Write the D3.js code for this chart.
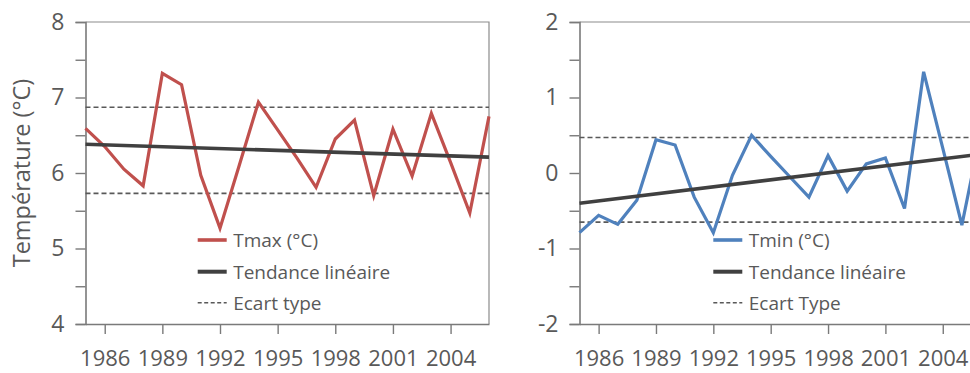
<!DOCTYPE html>
<html><head><meta charset="utf-8">
<script src="https://cdn.jsdelivr.net/npm/d3@7/dist/d3.min.js"></script>
<style>
html,body{margin:0;padding:0;background:#fff;overflow:hidden;}
svg{display:block;font-family:"Open Sans",sans-serif;}
</style></head>
<body>
<script>
const years = [1985,1986,1987,1988,1989,1990,1991,1992,1993,1994,1995,1996,1997,1998,1999,2000,2001,2002,2003,2004,2005,2006];
const tmax = [6.59,6.35,6.05,5.83,7.32,7.17,5.97,5.27,6.10,6.94,6.57,6.20,5.81,6.45,6.70,5.70,6.58,5.96,6.79,6.14,5.47,6.75];
const tmin = [-0.79,-0.56,-0.68,-0.36,0.44,0.37,-0.32,-0.79,-0.03,0.50,0.22,-0.05,-0.32,0.23,-0.24,0.12,0.20,-0.47,1.34,0.33,-0.69,0.55];
const trendYears = [1985,2006];
const trendTmax = [6.38,6.21];
const trendTmin = [-0.40,0.25];
const stdTmax = [6.87,5.73];
const stdTmin = [0.47,-0.65];
const xTickYears = [1986,1989,1992,1995,1998,2001,2004];
const yTicksTmax = [4,4.5,5,5.5,6,6.5,7,7.5,8];
const yLabelsTmax = [4,5,6,7,8];
const yTicksTmin = [-2,-1.5,-1,-0.5,0,0.5,1,1.5,2];
const yLabelsTmin = [-2,-1,0,1,2];
const legendTmax = ["Tmax (°C)","Tendance linéaire","Ecart type"];
const legendTmin = ["Tmin (°C)","Tendance linéaire","Ecart Type"];

const W = 970, H = 373;
const svg = d3.select("body").append("svg").attr("width",W).attr("height",H);

function panel(cfg){
  const x = d3.scaleLinear().domain([1985,2006]).range(cfg.xr);
  const y = d3.scaleLinear().domain(cfg.yd).range([324,22]);
  const g = svg.append("g");
  g.append("path").attr("d",`M${cfg.xr[0]},${y(cfg.yd[1])}H${cfg.xr[1]}V324`)
    .attr("fill","none").attr("stroke","#8c8c8c").attr("stroke-width",1.2);
  const ya = g.append("g").attr("transform",`translate(${cfg.xr[0]},0)`)
    .call(d3.axisLeft(y).tickValues(cfg.yTicks).tickSize(10).tickFormat(d=>cfg.yLabels.includes(d)?String(d):""));
  ya.select(".domain").attr("stroke","#7a7a7a").attr("stroke-width",1.6);
  ya.selectAll(".tick line").attr("stroke","#7a7a7a").attr("stroke-width",1.4);
  ya.selectAll(".tick text").attr("x",-21).attr("fill","#595959").attr("font-size",23).attr("font-family","Open Sans");
  const xa = g.append("g").attr("transform","translate(0,324)")
    .call(d3.axisBottom(x).tickValues(xTickYears).tickSize(10).tickSizeOuter(0).tickFormat(d3.format("d")));
  xa.select(".domain").attr("stroke","#7a7a7a").attr("stroke-width",1.6);
  xa.selectAll(".tick line").attr("stroke","#7a7a7a").attr("stroke-width",1.4);
  xa.selectAll(".tick text").attr("y",42).attr("dy",0).attr("fill","#595959").attr("font-size",22).attr("font-family","Open Sans");
  g.selectAll(".std").data(cfg.std).enter().append("line")
    .attr("x1",cfg.xr[0]).attr("x2",cfg.xr[1]).attr("y1",d=>y(d)).attr("y2",d=>y(d))
    .attr("stroke","#595959").attr("stroke-width",1.6).attr("stroke-dasharray","5,3");
  const line = d3.line().x((d,i)=>x(years[i])).y(d=>y(d));
  g.append("path").datum(cfg.values).attr("d",line).attr("fill","none")
    .attr("stroke",cfg.color).attr("stroke-width",3.2).attr("stroke-linejoin","miter");
  const tline = d3.line().x((d,i)=>x(trendYears[i])).y(d=>y(d));
  g.append("path").datum(cfg.trend).attr("d",tline).attr("fill","none")
    .attr("stroke","#404040").attr("stroke-width",3.6);
  const lg = g.append("g");
  const ly = [240,271.7,302.7];
  const styles = [
    {c:cfg.color,w:3.6,dash:null},
    {c:"#404040",w:4,dash:null},
    {c:"#595959",w:1.6,dash:"4,2.5"}
  ];
  cfg.legend.forEach((t,i)=>{
    lg.append("line").attr("x1",cfg.lx).attr("x2",cfg.lx+29).attr("y1",ly[i]).attr("y2",ly[i])
      .attr("stroke",styles[i].c).attr("stroke-width",styles[i].w).attr("stroke-dasharray",styles[i].dash);
    lg.append("text").attr("x",cfg.lx+35.5).attr("y",ly[i]+7).text(t)
      .attr("fill","#595959").attr("font-size",19).attr("font-family","Open Sans");
  });
  return g;
}

panel({xr:[85.5,489],yd:[4,8],yTicks:yTicksTmax,yLabels:yLabelsTmax,std:stdTmax,values:tmax,trend:trendTmax,color:"#C0504D",legend:legendTmax,lx:197.7});
panel({xr:[579.5,981],yd:[-2,2],yTicks:yTicksTmin,yLabels:yLabelsTmin,std:stdTmin,values:tmin,trend:trendTmin,color:"#4F81BD",legend:legendTmin,lx:713.3});

svg.append("text").attr("transform","translate(30,173) rotate(-90)").attr("text-anchor","middle")
  .attr("fill","#595959").attr("font-size",23.5).attr("font-family","Open Sans").text("Température (°C)");
</script>
</body></html>
